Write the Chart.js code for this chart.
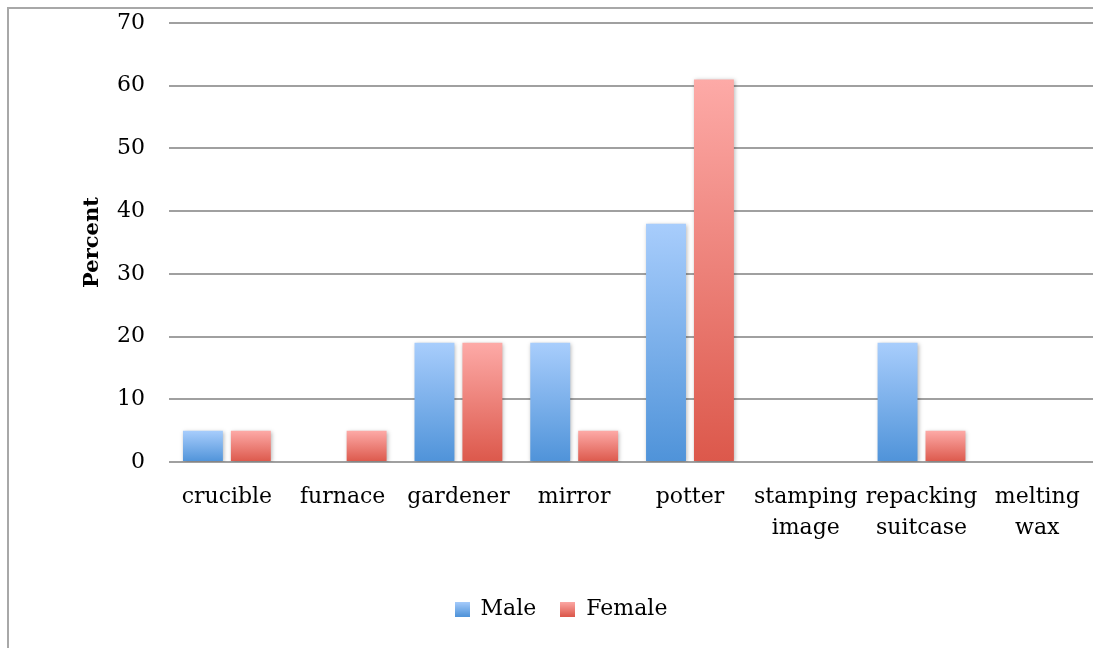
<!DOCTYPE html>
<html>
<head>
<meta charset="utf-8">
<script src="https://cdn.jsdelivr.net/npm/chart.js@4"></script>
<style>
  html, body { margin: 0; padding: 0; background: #fff; overflow: hidden; }
  #wrap { position: absolute; left: 0; top: 0; width: 1100px; height: 648px; }
  #frame { position: absolute; left: 7px; top: 7px; width: 2000px; height: 2000px;
    border: 2px solid #a8a8a8; box-sizing: border-box; pointer-events: none; }
</style>
</head>
<body>
<div id="frame"></div>
<div id="wrap"><canvas id="chart"></canvas></div>
<script>
"use strict";
const categories = ["crucible", "furnace", "gardener", "mirror", "potter",
  ["stamping", "image"], ["repacking", "suitcase"], ["melting", "wax"]];
const maleValues   = [5, 0, 19, 19, 38, 0, 19, 0];
const femaleValues = [5, 5, 19, 5, 61, 0, 5, 0];
const yMax = 70, yStep = 10;

const FONT = "'DejaVu Serif', serif";
const MALE = { top: "#a8cdfc", bottom: "#4f93d9" };
const FEMALE = { top: "#fdaaa7", bottom: "#dc584b" };

Chart.defaults.animation = false;
Chart.defaults.color = "#000";
Chart.defaults.font.family = FONT;

// vertical gradient inside each bar, light at top
const barFill = (c) => (ctx) => {
  const ys = ctx.chart.scales.y;
  if (!ys || ctx.parsed == null) return c.bottom;
  const top = ys.getPixelForValue(ctx.parsed.y), base = ys.getPixelForValue(0);
  if (!isFinite(top) || !isFinite(base) || top === base) return c.bottom;
  const g = ctx.chart.ctx.createLinearGradient(0, top, 0, base);
  g.addColorStop(0, c.top);
  g.addColorStop(1, c.bottom);
  return g;
};

function swatch(c) {
  const cv = document.createElement("canvas");
  cv.width = 15; cv.height = 15;
  const x = cv.getContext("2d");
  const g = x.createLinearGradient(0, 0, 0, 15);
  g.addColorStop(0, c.top); g.addColorStop(1, c.bottom);
  x.fillStyle = g; x.fillRect(0, 0, 15, 15);
  return cv;
}
const swatches = [swatch(MALE), swatch(FEMALE)];

const barShadow = {
  id: "barShadow",
  beforeDatasetsDraw(chart) {
    const c = chart.ctx;
    c.save();
    c.shadowColor = "rgba(0,0,0,0.28)";
    c.shadowBlur = 4; c.shadowOffsetX = 1; c.shadowOffsetY = 1;
  },
  afterDatasetsDraw(chart) { chart.ctx.restore(); },
};

new Chart(document.getElementById("chart"), {
  type: "bar",
  data: {
    labels: categories,
    datasets: [
      { label: "Male", data: maleValues, backgroundColor: barFill(MALE) },
      { label: "Female", data: femaleValues, backgroundColor: barFill(FEMALE) },
    ],
  },
  options: {
    responsive: true, maintainAspectRatio: false,
    layout: { padding: { left: 25, right: 3, top: 23, bottom: 18 } },
    datasets: { bar: { barPercentage: 0.833, categoryPercentage: 0.828 } },
    plugins: {
      tooltip: { enabled: false },
      legend: {
        position: "bottom",
        labels: {
          usePointStyle: true, boxWidth: 15, boxHeight: 15, padding: 24,
          font: { size: 22, family: FONT }, color: "#000",
          generateLabels: (chart) =>
            Chart.defaults.plugins.legend.labels.generateLabels(chart)
              .map((l, i) => ({ ...l, pointStyle: swatches[i] })),
        },
      },
    },
    scales: {
      x: {
        grid: { display: false, drawTicks: false },
        border: { display: false },
        ticks: { padding: 20, maxRotation: 0, autoSkip: false,
          font: { size: 22, family: FONT, lineHeight: 1.4 } },
        afterFit: (s) => { s.height = 112; },
      },
      y: {
        min: 0, max: yMax,
        grid: { color: "#a0a0a0", lineWidth: 2, drawTicks: false },
        border: { display: false },
        ticks: { stepSize: yStep, padding: 24, font: { size: 22, family: FONT } },
        title: { display: true, text: "Percent", padding: { top: 55, bottom: 0 },
          font: { size: 21, weight: "bold", family: FONT } },
        afterFit: (s) => { s.width = 144; s.paddingTop = 0; s.paddingBottom = 0; },
      },
    },
  },
  plugins: [barShadow],
});
</script>
</body>
</html>
